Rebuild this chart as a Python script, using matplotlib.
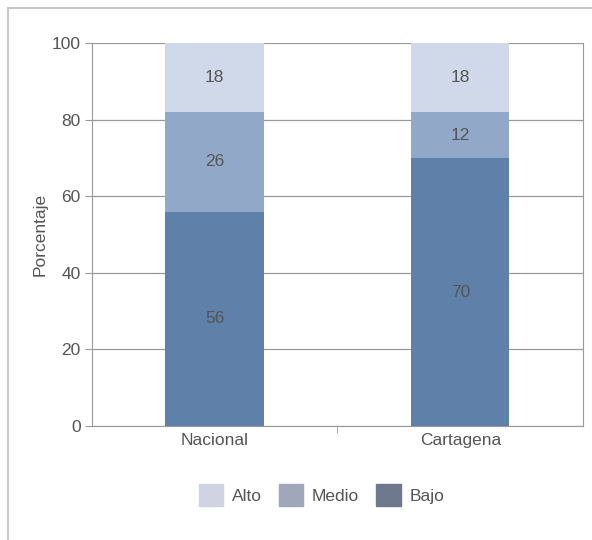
import numpy as np
import matplotlib.pyplot as plt
from matplotlib.patches import Patch, Rectangle

plt.rcParams['font.family'] = ['Liberation Sans', 'DejaVu Sans']

categorias = ['Nacional', 'Cartagena']
bajo = [56, 70]
medio = [26, 12]
alto = [18, 18]

col_bajo = '#5f80a8'
col_medio = '#91a8c8'
col_alto = '#cfd9e9'
gris = '#555555'
fs = 12.5

fig = plt.figure(figsize=(5.92, 5.40), dpi=100)
ax = fig.add_axes([0.155, 0.211, 0.83, 0.709])

# marco claro alrededor del grafico
fig.patches.append(Rectangle((8 / 592, -0.01), 1.0, 1 - 8 / 540 + 0.01, transform=fig.transFigure,
                             fill=False, edgecolor='#c8c8cc', linewidth=1.5))

x = np.arange(len(categorias))
w = 0.4
b1 = ax.bar(x, bajo, w, color=col_bajo, zorder=3)
b2 = ax.bar(x, medio, w, bottom=bajo, color=col_medio, zorder=3)
b3 = ax.bar(x, alto, w, bottom=np.array(bajo) + np.array(medio), color=col_alto, zorder=3)

for bars in (b1, b2, b3):
    for r in bars:
        h = r.get_height()
        ax.text(r.get_x() + r.get_width() / 2, r.get_y() + h / 2, f'{h:g}',
                ha='center', va='center', color=gris, fontsize=fs, zorder=4)

ax.set_xlim(-0.5, 1.5)
ax.set_ylim(0, 100)
ax.set_yticks([0, 20, 40, 60, 80, 100])
ax.set_xticks(x)
ax.set_xticklabels(categorias)
ax.set_xticks([0.5], minor=True)
ax.tick_params(axis='x', which='major', length=0, pad=5, labelsize=fs, labelcolor=gris)
ax.tick_params(axis='x', which='minor', length=5, color='#999999', direction='out')
ax.tick_params(axis='y', length=5, color='#999999', labelsize=fs, labelcolor=gris, pad=3)
ax.grid(axis='y', color='#999999', linewidth=0.9, zorder=0)
ax.spines['top'].set_visible(False)
for s in ['left', 'right', 'bottom']:
    ax.spines[s].set_color('#999999')
ax.set_ylabel('Porcentaje', color=gris, fontsize=fs, labelpad=3)

handles = [Patch(color='#cfd3e2', label='Alto'),
           Patch(color='#a0a7ba', label='Medio'),
           Patch(color='#6f798d', label='Bajo')]
fig.legend(handles=handles, loc='center', bbox_to_anchor=(0.543, 0.083), ncol=3, frameon=False,
           fontsize=fs, labelcolor=gris, handlelength=1.4, handleheight=1.6,
           handletextpad=0.5, columnspacing=1.0)

plt.savefig('out.png', dpi=100)
